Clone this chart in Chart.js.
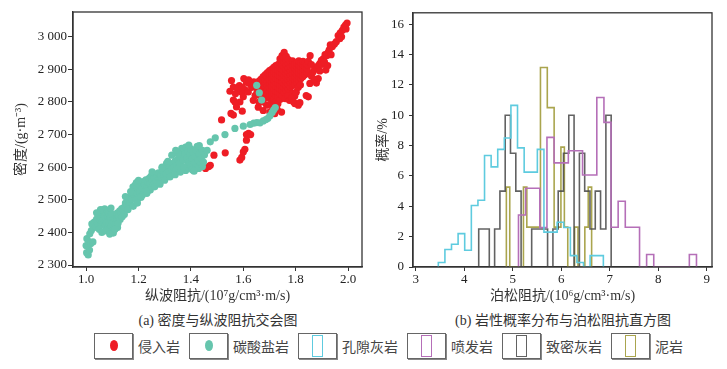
<!DOCTYPE html>
<html>
<head>
<meta charset="utf-8">
<script src="https://cdn.jsdelivr.net/npm/chart.js@4.4.1/dist/chart.umd.min.js"></script>
<style>
  body { margin:0; background:#fff; width:727px; height:369px; position:relative; overflow:hidden;
         font-family:'Liberation Serif','Noto Sans CJK SC',serif; color:#333; }
  canvas { position:absolute; top:0; }
  #cA { left:0; } #cB { left:370px; }
  .cap { position:absolute; top:309px; font-size:14px; white-space:nowrap; transform:translateX(-50%); }
  #legend { position:absolute; top:333px; left:94px; display:flex; align-items:center; }
  .item { display:flex; align-items:center; margin-right:9px; }
  .box { width:37px; height:24px; border:1px solid #666; box-shadow:1px 1px 0 #888; position:relative; margin-right:5px; }
  .dot { position:absolute; left:15px; top:6px; width:8px; height:11px; border-radius:50%; }
  .bar { position:absolute; left:13px; top:1px; width:9px; height:20px; border:1.5px solid; }
  .lbl { font-family:'Noto Sans CJK SC',sans-serif; font-size:14px; color:#444; }
</style>
</head>
<body>
<canvas id="cA" width="368" height="305"></canvas>
<canvas id="cB" width="357" height="305"></canvas>
<div class="cap" style="left:218px">(a) 密度与纵波阻抗交会图</div>
<div class="cap" style="left:563px">(b) 岩性概率分布与泊松阻抗直方图</div>
<div id="legend"></div>
<script>
// ---- (a) scatter: P impedance (10^7) vs density
const xTicksA = [1.0, 1.2, 1.4, 1.6, 1.8, 2.0];
const yTicksA = [2300, 2400, 2500, 2600, 2700, 2800, 2900, 3000];

const tealPts = [
[1.002,2338],[1.008,2331],[1.013,2346],[1.000,2360],[1.003,2381],[1.010,2372],[1.018,2366],[1.026,2371],[1.014,2396],[1.020,2406],
[1.028,2414],[1.022,2426],[1.031,2432],[1.036,2418],[1.040,2441],[1.044,2428],[1.047,2452],[1.052,2438],[1.056,2447],[1.060,2459],
[1.064,2469],[1.068,2455],[1.071,2472],[1.058,2425],[1.062,2433],[1.066,2442],[1.070,2449],[1.074,2462],[1.079,2468],[1.082,2452],
[1.086,2460],[1.090,2441],[1.094,2449],[1.098,2456],[1.072,2420],[1.078,2430],[1.084,2417],[1.088,2426],[1.092,2412],[1.096,2421],
[1.100,2405],[1.104,2398],[1.108,2410],[1.106,2432],[1.110,2442],[1.113,2424],[1.116,2447],[1.120,2437],[1.118,2459],[1.124,2452],
[1.128,2466],[1.132,2460],[1.136,2473],[1.141,2469],[1.146,2478],[1.150,2490],[1.156,2485],[1.160,2496],[1.166,2492],[1.170,2508],
[1.176,2502],[1.179,2540],[1.181,2518],[1.184,2530],[1.188,2546],[1.192,2553],[1.186,2510],[1.194,2521],[1.199,2533],[1.204,2546],
[1.205,2525],[1.210,2552],[1.214,2536],[1.219,2556],[1.224,2545],[1.228,2561],[1.232,2540],[1.236,2553],[1.240,2566],[1.244,2550],
[1.248,2573],[1.252,2561],[1.256,2546],[1.260,2568],[1.264,2579],[1.268,2558],[1.272,2571],[1.276,2583],[1.280,2565],[1.284,2576],
[1.288,2561],[1.292,2586],[1.296,2572],[1.300,2591],[1.306,2580],[1.307,2612],[1.310,2598],[1.316,2586],[1.320,2604],[1.326,2594],
[1.327,2637],[1.332,2612],[1.336,2600],[1.340,2619],[1.346,2606],[1.350,2625],[1.356,2612],[1.360,2633],[1.365,2658],[1.368,2646],
[1.371,2622],[1.376,2640],[1.380,2662],[1.384,2628],[1.388,2651],[1.392,2615],[1.396,2641],[1.400,2656],[1.404,2626],[1.408,2646],
[1.412,2610],[1.416,2633],[1.420,2651],[1.424,2664],[1.428,2621],[1.432,2641],[1.436,2606],[1.440,2629],[1.444,2652],[1.448,2616],
[1.452,2638],[1.398,2598],[1.388,2604],[1.420,2598],[1.342,2590],[1.352,2596],[1.290,2600],[1.232,2520],[1.245,2530],[1.215,2515],
[1.160,2470],[1.146,2455],[1.130,2440],[1.120,2415],[1.150,2510],[1.170,2525],[1.200,2505],
[1.050,2410],[1.060,2400],[1.075,2405],[1.090,2395],[1.110,2410],[1.122,2428],[1.138,2448],[1.190,2500],[1.210,2508],[1.230,2526],
[1.262,2540],[1.282,2548],[1.300,2560],[1.320,2570],[1.340,2577],[1.360,2585],[1.380,2590],[1.405,2592],[1.430,2596],[1.444,2602],
[1.372,2602],[1.412,2588],[1.200,2560],[1.252,2586],[1.290,2598],[1.312,2618],[1.350,2642],[1.342,2652],[1.392,2668],[1.432,2666],
[1.180,2480],[1.196,2490],[1.055,2470],[1.040,2460],[1.095,2475],
[1.462,2652],[1.474,2678],[1.493,2690],[1.530,2700],[1.568,2719],[1.600,2726],[1.626,2731],[1.640,2735],[1.652,2737],[1.664,2736],
[1.676,2742],[1.686,2746],[1.694,2750],[1.702,2758],[1.710,2768],[1.716,2776],[1.722,2783],[1.651,2851],[1.661,2828],[1.670,2806]
];

const redPts = [
// isolated low points
[1.456,2596],[1.468,2602],[1.474,2606],[1.488,2637],[1.531,2644],[1.517,2745],[1.587,2622],[1.594,2630],[1.600,2647],[1.606,2655],
[1.612,2683],[1.612,2700],[1.620,2704],[1.628,2700],
// left scatter
[1.553,2765],[1.562,2760],[1.574,2785],[1.562,2806],[1.587,2800],[1.596,2772],[1.549,2833],[1.555,2866],[1.562,2846],[1.568,2800],
[1.594,2830],[1.606,2838],[1.600,2816],[1.619,2831],[1.625,2856],[1.632,2845],[1.638,2805],[1.645,2820],[1.640,2862],[1.612,2860],
[1.585,2850],[1.578,2840],[1.657,2784],[1.676,2774],[1.689,2790],[1.701,2769],[1.720,2764],[1.746,2769],[1.712,2782],[1.730,2776],
[1.602,2872],[1.620,2868],[1.660,2800],[1.675,2800],[1.570,2825],[1.595,2845],
// main cluster
[1.652,2828],[1.652,2842],[1.652,2856],
[1.660,2822],[1.660,2836],[1.660,2850],[1.660,2864],
[1.668,2818],[1.668,2830],[1.668,2844],[1.668,2858],[1.668,2870],
[1.676,2815],[1.676,2828],[1.676,2840],[1.676,2852],[1.676,2866],[1.676,2878],
[1.684,2820],[1.684,2832],[1.684,2846],[1.684,2858],[1.684,2870],[1.684,2884],
[1.692,2812],[1.692,2826],[1.692,2838],[1.692,2850],[1.692,2862],[1.692,2876],[1.692,2890],
[1.700,2818],[1.700,2832],[1.700,2845],[1.700,2858],[1.700,2870],[1.700,2884],[1.700,2896],
[1.708,2800],[1.708,2822],[1.708,2836],[1.708,2850],[1.708,2862],[1.708,2875],[1.708,2888],[1.708,2900],
[1.716,2790],[1.716,2808],[1.716,2828],[1.716,2842],[1.716,2855],[1.716,2868],[1.716,2880],[1.716,2894],[1.716,2906],
[1.724,2785],[1.724,2800],[1.724,2820],[1.724,2834],[1.724,2848],[1.724,2860],[1.724,2873],[1.724,2886],[1.724,2900],[1.724,2912],
[1.732,2795],[1.732,2815],[1.732,2830],[1.732,2845],[1.732,2858],[1.732,2870],[1.732,2884],[1.732,2898],[1.732,2915],
[1.740,2808],[1.740,2825],[1.740,2840],[1.740,2852],[1.740,2866],[1.740,2878],[1.740,2892],[1.740,2905],[1.740,2920],[1.740,2932],
[1.748,2820],[1.748,2836],[1.748,2850],[1.748,2862],[1.748,2875],[1.748,2888],[1.748,2900],[1.748,2914],[1.748,2928],[1.748,2942],
[1.756,2830],[1.756,2844],[1.756,2856],[1.756,2870],[1.756,2882],[1.756,2895],[1.756,2908],[1.756,2922],[1.756,2936],[1.756,2952],
[1.764,2836],[1.764,2850],[1.764,2862],[1.764,2876],[1.764,2888],[1.764,2900],[1.764,2914],[1.764,2928],[1.764,2940],
[1.772,2840],[1.772,2854],[1.772,2868],[1.772,2880],[1.772,2892],[1.772,2905],[1.772,2918],[1.772,2930],
[1.780,2830],[1.780,2846],[1.780,2860],[1.780,2872],[1.780,2884],[1.780,2896],[1.780,2910],[1.780,2922],
[1.788,2826],[1.788,2850],[1.788,2864],[1.788,2876],[1.788,2888],[1.788,2900],[1.788,2914],[1.788,2926],
[1.796,2818],[1.796,2855],[1.796,2868],[1.796,2880],[1.796,2892],[1.796,2904],[1.796,2916],
[1.804,2860],[1.804,2872],[1.804,2884],[1.804,2896],[1.804,2908],[1.804,2920],
[1.812,2866],[1.812,2878],[1.812,2890],[1.812,2902],[1.812,2914],[1.812,2926],
[1.820,2872],[1.820,2884],[1.820,2896],[1.820,2908],[1.820,2920],
[1.828,2878],[1.828,2890],[1.828,2902],[1.828,2914],[1.828,2925],
[1.836,2884],[1.836,2896],[1.836,2908],[1.836,2920],
[1.844,2890],[1.844,2902],[1.844,2914],
[1.760,2810],[1.770,2820],[1.776,2805],[1.784,2812],[1.792,2800],[1.802,2830],[1.810,2845],[1.818,2852],
// right scatter and upper tail
[1.797,2795],[1.810,2790],[1.816,2798],[1.840,2820],[1.848,2816],[1.854,2857],[1.886,2872],[1.879,2858],[1.860,2880],[1.870,2870],
[1.855,2942],[1.848,2925],[1.860,2915],[1.866,2892],[1.872,2900],[1.880,2905],[1.886,2912],[1.892,2918],[1.892,2895],[1.898,2928],
[1.900,2915],[1.905,2932],[1.910,2922],[1.912,2945],[1.915,2898],[1.918,2942],[1.922,2912],[1.924,2952],[1.928,2960],[1.932,2975],
[1.935,2945],[1.940,2970],[1.948,2978],[1.955,2985],[1.962,3004],[1.968,2994],[1.970,3012],[1.975,3000],[1.978,3020],[1.984,3030],
[1.990,3036],[1.992,3024],[1.996,3042]
];

// ---- (b) histograms of Poisson impedance (10^6), bin edges and probability %
const xTicksB = [3, 4, 5, 6, 7, 8, 9];
const yTicksB = [0, 2, 4, 6, 8, 10, 12, 14, 16];

const poreEdges = [3.467,3.603,3.739,3.875,4.011,4.148,4.284,4.420,4.556,4.692,4.828,4.964,5.100,5.237,5.373,5.509,5.645,5.781,5.917,6.053,6.190,6.325,6.461,6.597,6.733,6.870];
const poreVals  = [0.3,1.15,1.5,2.2,1.1,4.05,4.4,7.35,6.6,7.75,8.5,10.65,7.85,6.25,6.25,7.75,2.3,2.3,2.95,2.6,0.75,0.3,0,0.75,0.75];

const volcEdges = [5.120,5.267,5.414,5.560,5.707,5.854,6.001,6.148,6.294,6.441,6.588,6.735,6.882,7.028,7.175,7.322,7.469,7.616,7.762,7.909,8.056,8.203,8.350,8.496,8.643,8.790];
const volcVals  = [3.43,5.19,5.19,2.6,8.54,6.86,6.86,7.66,7.66,6.06,6.06,11.17,9.53,2.62,4.33,2.62,2.62,0,0.82,0,0,0,0,0,0.82];

const tightEdges = [4.300,4.409,4.518,4.628,4.737,4.846,4.955,5.065,5.174,5.283,5.392,5.502,5.611,5.720,5.830,5.939,6.048,6.157,6.266,6.376,6.485,6.594,6.703,6.812,6.922,7.031];
const tightVals  = [2.5,2.5,0,2.5,5,10,7.5,5,0,0,2.5,2.5,2.5,0,2.5,5,7.5,10,0,7.5,5,2.5,5,2.5,10];

const mudEdges = [4.870,4.940,5.011,5.081,5.151,5.222,5.292,5.362,5.433,5.503,5.573,5.644,5.714,5.784,5.855,5.925,5.995,6.066,6.136,6.206,6.277,6.347,6.417,6.488,6.558,6.628];
const mudVals  = [5.26,0,0,0,0,5.26,2.63,2.63,2.63,2.63,13.15,13.15,10.5,10.5,2.63,2.63,7.9,2.63,0,0,2.63,0,0,2.63,5.26];

const seriesNames = ['侵入岩', '碳酸盐岩', '孔隙灰岩', '喷发岩', '致密灰岩', '泥岩'];
const seriesColors = ['#ee1d25', '#66c5ad', '#5ecbdf', '#b56fb8', 'rgba(70,70,70,0.85)', '#aaa54e'];

const tickFont = {family:"'Liberation Serif','Noto Sans CJK SC'", size:13};
const titleFont = {family:"'Liberation Serif','Noto Sans CJK SC'", size:14};
const txt = '#222';

const frame = {
  id:'frame',
  afterDraw(chart) {
    const {ctx, chartArea:a} = chart;
    ctx.save();
    ctx.strokeStyle = '#333';
    ctx.lineWidth = 1.3;
    ctx.strokeRect(a.left, a.top, a.right - a.left, a.bottom - a.top);
    ctx.restore();
  }
};

function stepLine(edges, vals) {
  const pts = [{x:edges[0], y:0}];
  vals.forEach((v,i) => { pts.push({x:edges[i], y:v}); pts.push({x:edges[i+1], y:v}); });
  pts.push({x:edges[edges.length-1], y:0});
  return pts;
}

function fixTicks(list) { return s => { s.ticks = list.map(v => ({value:v})); }; }

new Chart(document.getElementById('cA'), {
  type:'scatter',
  data:{ datasets:[
    { data: tealPts.map(([x,y]) => ({x,y})), backgroundColor:seriesColors[1], pointRadius:3.6, borderWidth:0 },
    { data: redPts.map(([x,y]) => ({x,y})),  backgroundColor:seriesColors[0], pointRadius:3.6, borderWidth:0 }
  ]},
  options:{
    responsive:false, animation:false, events:[],
    layout:{ padding:{top:12, right:6, left:0, bottom:0} },
    plugins:{ legend:{display:false}, tooltip:{enabled:false} },
    scales:{
      x:{ type:'linear', min:0.95, max:2.053, afterBuildTicks:fixTicks(xTicksA), afterFit:s=>{s.height=38;},
          grid:{drawOnChartArea:false, tickLength:4, color:'#333'}, border:{color:'#333', width:1.3},
          ticks:{font:tickFont, color:txt, padding:1, callback:v=>v.toFixed(1)},
          title:{display:true, text:'纵波阻抗/(10⁷g/cm³·m/s)', font:titleFont, color:'#333', padding:0} },
      y:{ type:'linear', min:2294, max:3076, afterBuildTicks:fixTicks(yTicksA), afterFit:s=>{s.width=73;},
          grid:{drawOnChartArea:false, tickLength:5, color:'#333'}, border:{color:'#333', width:1.3},
          ticks:{font:tickFont, color:txt, padding:1, callback:v=>String(v).replace(/(\d)(\d{3})$/, '$1 $2')},
          title:{display:true, text:'密度/(g·m⁻³)', font:titleFont, color:'#333', padding:{top:13}} }
    }
  },
  plugins:[frame]
});

new Chart(document.getElementById('cB'), {
  type:'scatter',
  data:{ datasets:[
    { data: stepLine(poreEdges, poreVals),   borderColor:seriesColors[2] },
    { data: stepLine(volcEdges, volcVals),   borderColor:seriesColors[3] },
    { data: stepLine(tightEdges, tightVals), borderColor:seriesColors[4] },
    { data: stepLine(mudEdges, mudVals),     borderColor:seriesColors[5] }
  ].map(d => Object.assign(d, {showLine:true, pointRadius:0, borderWidth:1.6, tension:0, fill:false}))},
  options:{
    responsive:false, animation:false, events:[],
    layout:{ padding:{top:12, right:15, left:0, bottom:0} },
    plugins:{ legend:{display:false}, tooltip:{enabled:false} },
    scales:{
      x:{ type:'linear', min:2.945, max:9.11, afterBuildTicks:fixTicks(xTicksB), afterFit:s=>{s.height=38;},
          grid:{drawOnChartArea:false, tickLength:4, color:'#333'}, border:{color:'#333', width:1.3},
          ticks:{font:tickFont, color:txt, padding:1},
          title:{display:true, text:'泊松阻抗/(10⁶g/cm³·m/s)', font:titleFont, color:'#333', padding:0} },
      y:{ type:'linear', min:0, max:16.75, afterBuildTicks:fixTicks(yTicksB), afterFit:s=>{s.width=43;},
          grid:{drawOnChartArea:false, tickLength:4, color:'#333'}, border:{color:'#333', width:1.3},
          ticks:{font:tickFont, color:txt, padding:5},
          title:{display:true, text:'概率/%', font:titleFont, color:'#333', padding:{top:5}} }
    }
  },
  plugins:[frame]
});

// legend
const legend = document.getElementById('legend');
seriesNames.forEach((name, i) => {
  const item = document.createElement('div');
  item.className = 'item';
  const box = document.createElement('span');
  box.className = 'box';
  const mark = document.createElement('i');
  if (i < 2) { mark.className = 'dot'; mark.style.background = seriesColors[i]; }
  else { mark.className = 'bar'; mark.style.borderColor = seriesColors[i]; }
  box.appendChild(mark);
  const lbl = document.createElement('span');
  lbl.className = 'lbl';
  lbl.textContent = name;
  item.appendChild(box); item.appendChild(lbl);
  legend.appendChild(item);
});
</script>
</body>
</html>
